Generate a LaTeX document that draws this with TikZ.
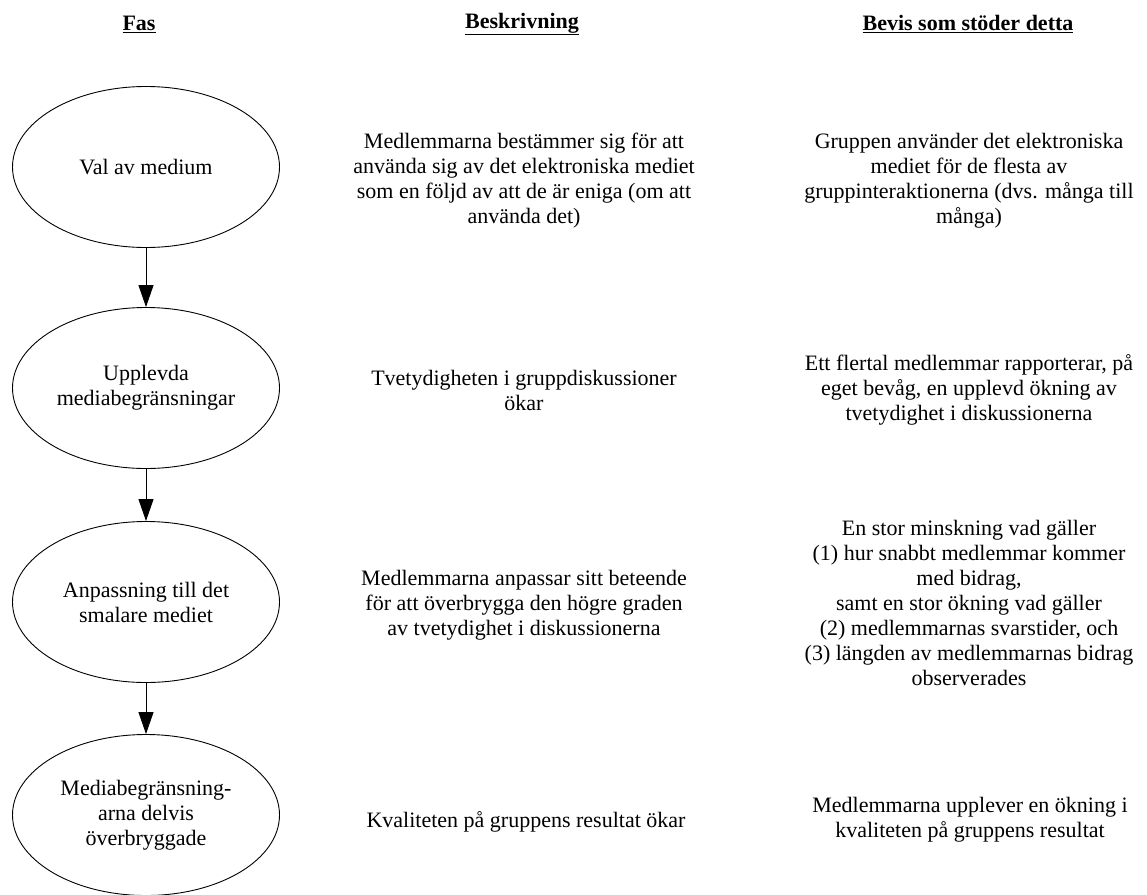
\documentclass[tikz,border=0pt]{standalone}
\usepackage{fontspec}
\setmainfont{Liberation Serif}
\usepackage{tikz}
\usetikzlibrary{shapes.geometric, arrows.meta, positioning}
\newcommand{\diagfont}{\fontsize{22}{25}\selectfont}
\tikzstyle{phasebox} = [ellipse, draw=black, line width=0.9pt, minimum width=267pt, minimum height=161pt,
                        inner sep=0pt, align=center, text centered]
\tikzstyle{desctext} = [inner sep=0pt, align=center]
\tikzstyle{headtext} = [inner sep=0pt, font=\diagfont\bfseries]
\tikzstyle{arrow} = [line width=0.9pt, -{Triangle[length=22pt, width=15pt]}]

\begin{document}
\begin{tikzpicture}[x=1pt, y=-1pt, font=\diagfont]
    \useasboundingbox (0,0) rectangle (1147,894);

    % Headers
    \node[headtext] (hfas) at (139,24) {\underline{Fas}};
    \node[headtext] (hbesk) at (522,24) {\underline{Beskrivning}};
    \node[headtext] (hbevis) at (968,24) {\underline{Bevis som stöder detta}};

    % Column 1: phases
    \node[phasebox] (val) at (146,167) {Val av medium};
    \node[phasebox] (upplevda) at (146,388) {Upplevda\\mediabegränsningar};
    \node[phasebox] (anpassning) at (146,602) {Anpassning till det\\smalare mediet};
    \node[phasebox] (overbryggade) at (146,815) {Mediabegränsning-\\arna delvis\\överbryggade};

    % Arrows between phases
    \draw[arrow] (val) -- (upplevda);
    \draw[arrow] (upplevda) -- (anpassning);
    \draw[arrow] (anpassning) -- (overbryggade);

    % Column 2: descriptions
    \node[desctext] (beskval) at (524,181) {Medlemmarna bestämmer sig för att\\använda sig av det elektroniska mediet\\som en följd av att de är eniga (om att\\använda det)};
    \node[desctext] (beskupplevda) at (524,390) {Tvetydigheten i gruppdiskussioner\\ökar};
    \node[desctext] (beskanpassning) at (524,605) {Medlemmarna anpassar sitt beteende\\för att överbrygga den högre graden\\av tvetydighet i diskussionerna};
    \node[desctext] (beskoverbryggade) at (526,822) {Kvaliteten på gruppens resultat ökar};

    % Column 3: evidence
    \node[desctext] (bevisval) at (969,181) {Gruppen använder det elektroniska\\mediet för de flesta av\\gruppinteraktionerna (dvs. många till\\många)};
    \node[desctext] (bevisupplevda) at (969,390) {Ett flertal medlemmar rapporterar, på\\eget bevåg, en upplevd ökning av\\tvetydighet i diskussionerna};
    \node[desctext] (bevisanpassning) at (969,603) {En stor minskning vad gäller\\(1) hur snabbt medlemmar kommer\\med bidrag,\\samt en stor ökning vad gäller\\(2) medlemmarnas svarstider, och\\(3) längden av medlemmarnas bidrag\\observerades};
    \node[desctext] (bevisoverbryggade) at (970,820) {Medlemmarna upplever en ökning i\\kvaliteten på gruppens resultat};
\end{tikzpicture}
\end{document}
